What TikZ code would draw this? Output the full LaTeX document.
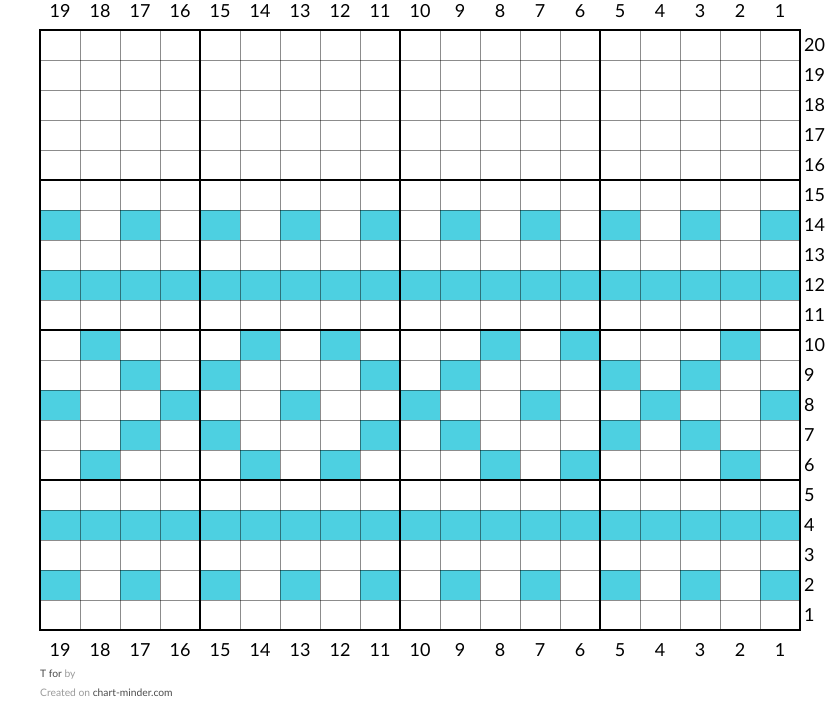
\documentclass[tikz,border=0pt]{standalone}
\usepackage{fontspec}
\setmainfont{Lato}
\usetikzlibrary{positioning}
\definecolor{stitchcyan}{HTML}{4DD0E1}
\definecolor{footgray}{HTML}{9A9A9A}
\definecolor{footdark}{HTML}{4A4A4A}

\begin{document}
\begin{tikzpicture}[x=1pt,y=-1pt,
 num/.style={font=\fontsize{18}{20}\selectfont,inner sep=0pt},
 foot/.style={font=\fontsize{10.3}{12}\selectfont,inner sep=0pt,anchor=west},
 gridthin/.style={draw=black,draw opacity=.45,line width=1pt},
 gridthick/.style={draw=black,line width=2pt}]
\useasboundingbox (0,0) rectangle (840,723);
% coloured stitches, per row
\foreach \r/\cols in {14/{1,3,...,19},12/{1,...,19},10/{2,6,8,12,14,18},9/{3,5,9,11,15,17},8/{1,4,7,10,13,16,19},7/{3,5,9,11,15,17},6/{2,6,8,12,14,18},4/{1,...,19},2/{1,3,...,19}}
 {\foreach \n in \cols
  {\fill[stitchcyan] ({800-40*\n},{630-30*\r}) rectangle ++(40,30);}}
% thin grid
\foreach \i in {1,...,18} {\draw[gridthin] ({40+40*\i},30) -- ({40+40*\i},630);}
\foreach \j in {1,...,19} {\draw[gridthin] (40,{30+30*\j}) -- (800,{30+30*\j});}
% every fifth line
\foreach \x in {200,400,600} {\draw[gridthick] (\x,30) -- (\x,630);}
\foreach \y in {180,330,480} {\draw[gridthick] (40,\y) -- (800,\y);}
\draw[gridthick] (40,30) rectangle (800,630);
% column and row numbers
\foreach \n in {1,...,19}
 {\node[num] (top-\n) at ({820-40*\n},11) {\n};
  \node[num] (bot-\n) at ({820-40*\n},650) {\n};}
\foreach \r in {1,...,20}
 {\node[num,anchor=west] (row-\r) at (804,{645-30*\r}) {\r};}
% footer
\node[foot] (title) at (40,675) {\textcolor{footdark}{T for} \textcolor{footgray}{by}};
\node[foot] (credit) at (40,693) {\textcolor{footgray}{Created on} \textcolor{footdark}{chart-minder.com}};
\end{tikzpicture}
\end{document}
